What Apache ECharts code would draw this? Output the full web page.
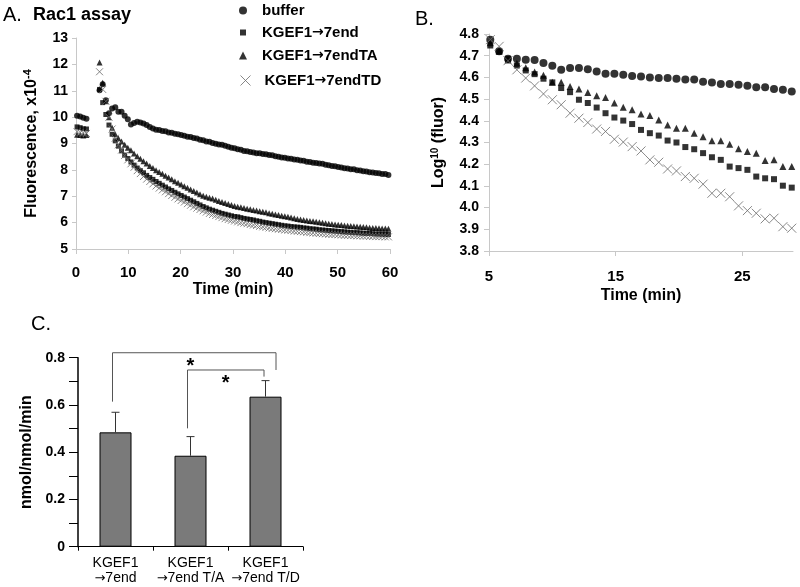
<!DOCTYPE html>
<html><head><meta charset="utf-8">
<script src="https://cdn.jsdelivr.net/npm/echarts@6/dist/echarts.min.js"></script>
<style>html,body{margin:0;padding:0;background:#fff}#c{width:800px;height:587px}</style>
</head><body><div id="c"></div>
<script>
const FONT = '"Liberation Sans", Arial, Helvetica, sans-serif';
const ARROW_FONT = '"DejaVu Sans", sans-serif';

// ---------- Panel A: fluorescence (x10^-4) vs time (min) ----------
const timeA = [0.2,0.8,1.4,2.0,
 4.5,5.1,5.7,6.3,6.9,7.5,8.1,8.7,9.3,9.9,10.5,11.1,11.7,12.3,12.9,13.5,14.1,14.7,15.3,15.9,16.5,17.1,17.7,18.3,18.9,19.5,
 20.1,20.7,21.3,21.9,22.5,23.1,23.7,24.3,24.9,25.5,26.1,26.7,27.3,27.9,28.5,29.1,29.7,30.3,30.9,31.5,32.1,32.7,33.3,33.9,34.5,
 35.1,35.7,36.3,36.9,37.5,38.1,38.7,39.3,39.9,40.5,41.1,41.7,42.3,42.9,43.5,44.1,44.7,45.3,45.9,46.5,47.1,47.7,48.3,48.9,49.5,
 50.1,50.7,51.3,51.9,52.5,53.1,53.7,54.3,54.9,55.5,56.1,56.7,57.3,57.9,58.5,59.1,59.7];
const bufferA = [10.05,10.02,9.98,9.94,
 11.02,11.25,10.64,10.15,10.33,10.37,10.20,10.20,10.05,9.92,
 9.72,9.78,9.82,9.80,9.76,9.70,9.63,9.57,9.52,9.51,
 9.47,9.46,9.42,9.41,9.37,9.35,9.32,9.29,9.26,9.25,
 9.21,9.19,9.14,9.12,9.08,9.07,9.02,8.99,8.96,8.95,
 8.91,8.88,8.84,8.82,8.78,8.76,8.72,8.71,8.68,8.66,
 8.63,8.63,8.60,8.59,8.56,8.55,8.52,8.50,8.47,8.46,
 8.43,8.42,8.39,8.38,8.36,8.35,8.31,8.30,8.27,8.26,
 8.24,8.23,8.19,8.18,8.15,8.14,8.11,8.09,8.06,8.05,
 8.02,8.02,7.99,7.98,7.95,7.94,7.91,7.90,7.88,7.87,
 7.84,7.84,7.81];
const endA = [9.63,9.60,9.56,9.55,
 11.05,10.55,10.10,9.70,9.35,9.10,8.90,8.72,8.56,8.43,
 8.30,8.18,8.07,7.97,7.89,7.79,7.71,7.64,7.56,7.49,
 7.42,7.35,7.28,7.22,7.15,7.09,7.03,6.97,6.91,6.85,
 6.79,6.73,6.67,6.61,6.56,6.51,6.47,6.43,6.39,6.35,
 6.32,6.29,6.26,6.23,6.22,6.19,6.16,6.14,6.12,6.10,
 6.07,6.05,6.02,6.00,5.98,5.96,5.94,5.92,5.90,5.88,
 5.87,5.85,5.84,5.83,5.82,5.80,5.79,5.77,5.76,5.75,
 5.73,5.72,5.71,5.70,5.69,5.68,5.67,5.66,5.65,5.64,
 5.63,5.62,5.62,5.61,5.60,5.59,5.59,5.58,5.57,5.57,
 5.56,5.56,5.55];
const endTA_A = [9.33,9.32,9.30,9.32,
 12.07,11.30,10.60,10.00,9.60,9.35,9.20,9.08,8.95,8.84,
 8.74,8.62,8.52,8.42,8.33,8.24,8.15,8.07,7.99,7.92,
 7.85,7.78,7.71,7.64,7.57,7.51,7.45,7.38,7.32,7.26,
 7.20,7.14,7.08,7.02,6.98,6.94,6.91,6.87,6.82,6.78,
 6.74,6.71,6.67,6.63,6.60,6.58,6.55,6.53,6.51,6.48,
 6.46,6.43,6.41,6.39,6.36,6.34,6.31,6.29,6.26,6.24,
 6.22,6.19,6.17,6.14,6.12,6.10,6.08,6.06,6.05,6.03,
 6.01,6.00,5.98,5.96,5.95,5.93,5.92,5.91,5.89,5.88,
 5.87,5.86,5.85,5.84,5.83,5.82,5.81,5.80,5.80,5.79,
 5.78,5.78,5.77];
const endTD_A = [9.45,9.42,9.40,9.38,
 11.72,11.05,10.60,10.00,9.55,9.20,8.95,8.75,8.55,8.38,
 8.23,8.10,7.97,7.86,7.75,7.65,7.56,7.47,7.39,7.31,
 7.24,7.17,7.10,7.03,6.96,6.90,6.84,6.78,6.72,6.66,
 6.60,6.55,6.50,6.45,6.40,6.35,6.31,6.27,6.23,6.19,
 6.15,6.12,6.09,6.06,6.03,6.00,5.98,5.96,5.93,5.91,
 5.89,5.86,5.84,5.82,5.80,5.78,5.77,5.75,5.74,5.72,
 5.71,5.70,5.68,5.67,5.66,5.65,5.63,5.62,5.61,5.60,
 5.59,5.58,5.57,5.56,5.55,5.55,5.54,5.53,5.52,5.52,
 5.51,5.51,5.50,5.50,5.49,5.49,5.48,5.48,5.47,5.47,
 5.47,5.46,5.46];

// ---------- Panel B: log10(fluor) vs time (min) ----------
const timeB = [5.1,5.8,6.5,7.2,7.9,8.6,9.3,10.0,10.7,11.4,12.1,12.8,13.5,14.2,14.9,15.6,16.3,17.0,17.7,18.4,
 19.1,19.8,20.5,21.2,21.9,22.6,23.3,24.0,24.7,25.4,26.1,26.8,27.5,28.2,28.9];
const bufferB = [4.774,4.72,4.686,4.686,4.681,4.68,4.666,4.654,4.635,4.643,4.643,4.638,4.627,4.617,4.617,4.612,4.606,4.604,4.60,4.597,
 4.597,4.594,4.59,4.59,4.58,4.577,4.57,4.57,4.566,4.561,4.555,4.555,4.546,4.543,4.535];
const endB = [4.747,4.72,4.685,4.655,4.632,4.615,4.594,4.577,4.551,4.532,4.497,4.482,4.461,4.435,4.415,4.401,4.385,4.358,4.343,4.332,
 4.309,4.30,4.279,4.269,4.251,4.232,4.22,4.189,4.182,4.174,4.143,4.135,4.131,4.101,4.092];
const endTA_B = [4.76,4.72,4.68,4.665,4.645,4.625,4.61,4.578,4.578,4.558,4.546,4.53,4.515,4.507,4.482,4.463,4.451,4.431,4.424,4.404,
 4.381,4.366,4.366,4.343,4.327,4.308,4.308,4.292,4.271,4.258,4.251,4.217,4.22,4.189,4.189];
const endTD_B = [4.774,4.743,4.677,4.635,4.597,4.561,4.524,4.497,4.474,4.435,4.412,4.392,4.362,4.351,4.315,4.302,4.281,4.261,4.22,4.209,
 4.178,4.169,4.143,4.135,4.108,4.066,4.066,4.05,4.008,3.986,3.974,3.948,3.951,3.912,3.905];

// ---------- Panel C: rates ----------
const categoriesC = ['KGEF1\n\u21927end', 'KGEF1\n\u21927end T/A', 'KGEF1\n\u21927end T/D'];
const meansC = [0.484, 0.385, 0.635];
const errTopC = [0.569, 0.466, 0.703];
// significance brackets (x in category units, y in data units)
const bracketLeftX = [-0.04, 0.96];
const bracketRightX = [2.14, 1.98];
const bracketTopY = [0.821, 0.748];
const bracketLeftBottomY = [0.614, 0.501];
const bracketRightBottomY = [0.748, 0.72];
const starX = [1.0, 1.47];
const starY = [0.783, 0.71];

const seriesNames = ['buffer', 'KGEF1\u21927end', 'KGEF1\u21927endTA', 'KGEF1\u21927endTD'];
const CROSS = 'path://M0,0L10,10M0,10L10,0';

const pair = (t, v) => t.map((x, i) => [x, v[i]]);
// wrap text so the arrow glyph uses a font with a full-size arrow
const richArrow = s => s.split('\n').map(line => '{t|' + line.replace('\u2192', '}{ar|\u2192}{t|') + '}').join('\n');

const chart = echarts.init(document.getElementById('c'));
const axisText = (size, bold) => ({ fontFamily: FONT, fontSize: size, fontWeight: bold ? 'bold' : 'normal', color: '#000' });
const grayLine = { lineStyle: { color: '#c8c8c8', width: 1 } };

function scat(name, data, xi, symbol, size, cross) {
  return {
    type: 'scatter', name, data, xAxisIndex: xi, yAxisIndex: xi, symbol, symbolSize: size,
    itemStyle: cross ? { color: 'none', borderColor: '#6a6a6a', borderWidth: 1 } : { color: '#000' },
    emphasis: { disabled: true }, silent: true
  };
}

function legendFor(name, top, s, extra) {
  const pad = 14 - s / 2;
  return Object.assign({
    data: [name], left: 243 - s / 2, top: top, padding: 0, itemWidth: s, itemHeight: s,
    selectedMode: false, formatter: n => richArrow(n),
    textStyle: { fontFamily: FONT, fontSize: 15, fontWeight: 'bold', color: '#000', padding: [0, 0, 0, pad],
      rich: {
        t: { fontFamily: FONT, fontSize: 15, fontWeight: 'bold', color: '#000' },
        ar: { fontFamily: ARROW_FONT, fontSize: 14, fontWeight: 'bold', color: '#000' }
      } }
  }, extra || {});
}

const option = {
  animation: false,
  backgroundColor: '#fff',
  textStyle: { fontFamily: FONT },
  title: [
    { text: 'A.', left: 3, top: 5, padding: 0, textStyle: { fontFamily: FONT, fontSize: 20, fontWeight: 'normal', color: '#000' } },
    { text: 'Rac1 assay', left: 33, top: 6, padding: 0, textStyle: { fontFamily: FONT, fontSize: 18, fontWeight: 'bold', color: '#000' } },
    { text: 'B.', left: 415, top: 9, padding: 0, textStyle: { fontFamily: FONT, fontSize: 20, fontWeight: 'normal', color: '#000' } },
    { text: 'C.', left: 31, top: 314, padding: 0, textStyle: { fontFamily: FONT, fontSize: 20, fontWeight: 'normal', color: '#000' } }
  ],
  legend: [
    legendFor(seriesNames[0], 3, 8),
    legendFor(seriesNames[1], 25, 6),
    legendFor(seriesNames[2], 48, 8),
    legendFor(seriesNames[3], 73, 10, { data: [{ name: seriesNames[3], icon: CROSS, itemStyle: { color: 'none', borderColor: '#6a6a6a', borderWidth: 1 } }] })
  ],
  grid: [
    { left: 76, top: 38, width: 314, height: 211 },
    { left: 489, top: 34, width: 304, height: 217 },
    { left: 78, top: 357.7, width: 225, height: 189 }
  ],
  xAxis: [
    { gridIndex: 0, type: 'value', min: 0, max: 60, interval: 10,
      axisLine: grayLine, axisTick: { show: true, length: 5, lineStyle: { color: '#c8c8c8' } }, splitLine: { show: false },
      axisLabel: Object.assign({ margin: 16 }, axisText(15, true)),
      name: 'Time (min)', nameLocation: 'middle', nameGap: 33, nameTextStyle: axisText(16, true) },
    { gridIndex: 1, type: 'value', min: 5, max: 29, interval: 10,
      axisLine: grayLine, axisTick: { show: true, length: 5, lineStyle: { color: '#c8c8c8' } }, splitLine: { show: false },
      axisLabel: Object.assign({ margin: 18, showMaxLabel: false }, axisText(15, true)),
      name: 'Time (min)', nameLocation: 'middle', nameGap: 37, nameTextStyle: axisText(16, true) },
    { gridIndex: 2, type: 'category', data: categoriesC,
      axisLine: { lineStyle: { color: '#000', width: 1 } }, axisTick: { show: true, length: 4, lineStyle: { color: '#000' } },
      axisLabel: Object.assign({ margin: 9, lineHeight: 15, interval: 0, formatter: v => richArrow(v),
        rich: {
          t: { fontFamily: FONT, fontSize: 14, color: '#000', lineHeight: 15 },
          ar: { fontFamily: ARROW_FONT, fontSize: 13, color: '#000', lineHeight: 15 }
        } }, axisText(14, false)) }
  ],
  yAxis: [
    { gridIndex: 0, type: 'value', min: 5, max: 13, interval: 1,
      axisLine: { show: true, lineStyle: { color: '#c8c8c8' } }, axisTick: { show: true, length: 4, lineStyle: { color: '#c8c8c8' } },
      splitLine: { show: false }, axisLabel: Object.assign({ margin: 8 }, axisText(14, true)),
      name: '{a|Fluorescence, x10}{s|-4}', nameLocation: 'middle', nameGap: 35,
      nameTextStyle: { rich: {
        a: { fontFamily: FONT, fontSize: 16, fontWeight: 'bold', color: '#000' },
        s: { fontFamily: FONT, fontSize: 11, fontWeight: 'bold', color: '#000', verticalAlign: 'top', padding: [0, 0, 8, 0] } } } },
    { gridIndex: 1, type: 'value', min: 3.8, max: 4.8, interval: 0.1,
      axisLine: { show: true, lineStyle: { color: '#c8c8c8' } }, axisTick: { show: true, length: 5, lineStyle: { color: '#c8c8c8' } },
      splitLine: { show: false },
      axisLabel: Object.assign({ margin: 10, formatter: v => v.toFixed(1) }, axisText(14, true)),
      name: '{a|Log}{s|10}{a| (fluor)}', nameLocation: 'middle', nameGap: 41,
      nameTextStyle: { rich: {
        a: { fontFamily: FONT, fontSize: 16, fontWeight: 'bold', color: '#000' },
        s: { fontFamily: FONT, fontSize: 10, fontWeight: 'bold', color: '#000', verticalAlign: 'top', padding: [0, 0, 8, 0] } } } },
    { gridIndex: 2, type: 'value', min: 0, max: 0.8, interval: 0.1,
      axisLine: { show: true, lineStyle: { color: '#000', width: 1.5 } }, axisTick: { show: true, length: 9, lineStyle: { color: '#000' } },
      splitLine: { show: false },
      axisLabel: Object.assign({ margin: 13, formatter: v => { const k = Math.round(v * 10); return k % 2 === 0 ? (k === 0 ? '0' : (k / 10).toFixed(1)) : ''; } }, axisText(14, true)),
      name: 'nmol/nmol/min', nameLocation: 'middle', nameGap: 43, nameTextStyle: axisText(16, true) }
  ],
  series: [
    scat(seriesNames[0], pair(timeA, bufferA), 0, 'circle', 6),
    scat(seriesNames[1], pair(timeA, endA), 0, 'rect', 5),
    scat(seriesNames[2], pair(timeA, endTA_A), 0, 'triangle', 6),
    scat(seriesNames[3], pair(timeA, endTD_A), 0, CROSS, 7, true),
    scat(seriesNames[0], pair(timeB, bufferB), 1, 'circle', 8),
    scat(seriesNames[1], pair(timeB, endB), 1, 'rect', 6),
    scat(seriesNames[2], pair(timeB, endTA_B), 1, 'triangle', 7),
    scat(seriesNames[3], pair(timeB, endTD_B), 1, CROSS, 9, true),
    { type: 'bar', name: 'rate', xAxisIndex: 2, yAxisIndex: 2, data: meansC, barWidth: 32, silent: true,
      itemStyle: { color: '#7a7a7a', borderColor: '#000', borderWidth: 1 } },
    { type: 'custom', name: 'err', xAxisIndex: 2, yAxisIndex: 2, silent: true, z: 3,
      data: meansC.map((m, i) => [i, m, errTopC[i]]),
      renderItem: (params, api) => {
        const p0 = api.coord([api.value(0), api.value(1)]);
        const p1 = api.coord([api.value(0), api.value(2)]);
        return { type: 'group', children: [
          { type: 'line', shape: { x1: p0[0], y1: p0[1], x2: p1[0], y2: p1[1] }, style: { stroke: '#333', lineWidth: 1 } },
          { type: 'line', shape: { x1: p1[0] - 4, y1: p1[1], x2: p1[0] + 4, y2: p1[1] }, style: { stroke: '#333', lineWidth: 1 } }
        ] };
      } },
    { type: 'custom', name: 'sig', xAxisIndex: 2, yAxisIndex: 2, silent: true, clip: false, z: 4,
      data: bracketTopY.map((t, i) => [i, t]),
      renderItem: (params, api) => {
        const i = params.dataIndex;
        const bw = api.size([1, 0])[0];
        const x0 = api.coord([0, 0])[0];
        const X = v => x0 + v * bw;
        const Y = v => api.coord([0, v])[1];
        const xl = X(bracketLeftX[i]), xr = X(bracketRightX[i]);
        return { type: 'group', children: [
          { type: 'polyline', shape: { points: [[xl, Y(bracketLeftBottomY[i])], [xl, Y(bracketTopY[i])], [xr, Y(bracketTopY[i])], [xr, Y(bracketRightBottomY[i])]] },
            style: { stroke: '#555', lineWidth: 1, fill: null } },
          { type: 'text', style: { text: '*', x: X(starX[i]), y: Y(starY[i]) + 5, fontSize: 20, fontWeight: 'bold', fontFamily: FONT, fill: '#000', align: 'center', verticalAlign: 'middle' } }
        ] };
      } }
  ]
};
chart.setOption(option);
</script>
</body></html>
